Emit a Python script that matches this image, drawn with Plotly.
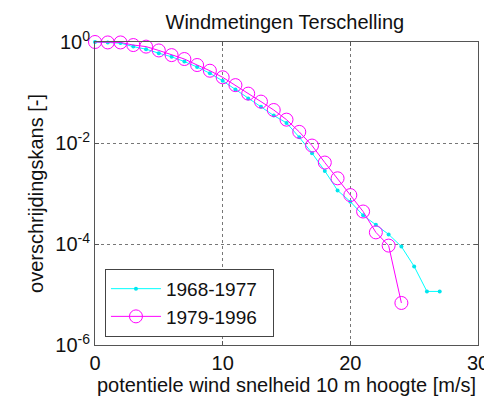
import plotly.graph_objects as go

speed_a = list(range(0, 28))
prob_a = [1.0, 0.98, 0.95, 0.81, 0.72, 0.60, 0.51, 0.41, 0.32, 0.24,
          0.17, 0.115, 0.076, 0.052, 0.035, 0.025, 0.013, 0.0063, 0.0028, 0.00115,
          0.00069, 0.00037, 0.00024, 0.000155, 0.000089, 0.000036, 0.0000115, 0.0000115]

speed_b = list(range(0, 25))
prob_b = [1.0, 0.98, 0.98, 0.87, 0.81, 0.68, 0.55, 0.46, 0.35, 0.27,
          0.20, 0.14, 0.095, 0.066, 0.045, 0.029, 0.0166, 0.0089, 0.0041, 0.0020,
          0.00093, 0.00044, 0.00017, 0.000093, 0.0000068]

label_a = "1968-1977"
label_b = "1979-1996"
y_tickvals = [1, 1e-2, 1e-4, 1e-6]
y_ticktext = ["10<sup>0</sup>", "10<sup>-2</sup>", "10<sup>-4</sup>", "10<sup>-6</sup>"]
x_tickvals = [0, 10, 20, 30]

FONT = "Liberation Sans, Arial, sans-serif"
FS = 20
PAD = "\u00a0\u00a0"

fig = go.Figure()
fig.add_trace(go.Scatter(
    x=speed_a, y=prob_a, name=label_a + PAD, mode="lines+markers",
    line=dict(color="#00ffff", width=1),
    marker=dict(symbol="circle", size=4, color="#00e5ee"),
    cliponaxis=False,
))
fig.add_trace(go.Scatter(
    x=speed_b, y=prob_b, name=label_b + PAD, mode="lines+markers",
    line=dict(color="#ff00ff", width=1),
    marker=dict(symbol="circle-open", size=13, color="#ff00ff", line=dict(width=1)),
    cliponaxis=False,
))

axis_common = dict(
    showline=True, linecolor="#555555", linewidth=1, mirror="allticks",
    ticks="inside", ticklen=4, tickcolor="#555555",
    showgrid=True, gridcolor="#777777", griddash="dot", gridwidth=1,
    zeroline=False, automargin=False,
    tickfont=dict(family=FONT, size=FS, color="#111111"),
)

fig.update_layout(
    width=484, height=394,
    margin=dict(l=87, r=14, t=34, b=57),
    paper_bgcolor="white", plot_bgcolor="white",
    font=dict(family=FONT, size=FS, color="#111111"),
    title=dict(text="Windmetingen Terschelling", x=0.572, xanchor="center",
               y=0.964, yanchor="middle", font=dict(family=FONT, size=FS, color="#111111")),
    xaxis=dict(range=[0, 30], tickvals=x_tickvals,
               title=dict(text="potentiele wind snelheid 10 m hoogte [m/s]", standoff=2,
                          font=dict(family=FONT, size=FS)),
               **axis_common),
    yaxis=dict(type="log", range=[-6, 0], tickvals=y_tickvals, ticktext=y_ticktext,
               title=dict(text="overschrijdingskans [-]", standoff=6,
                          font=dict(family=FONT, size=FS)),
               **axis_common),
    legend=dict(x=0.026, y=0.027, xanchor="left", yanchor="bottom",
                bgcolor="white", bordercolor="#444444", borderwidth=1,
                font=dict(family=FONT, size=19, color="#111111"),
                itemwidth=50, tracegroupgap=0),
    showlegend=True,
)

fig.write_html("out.html")
